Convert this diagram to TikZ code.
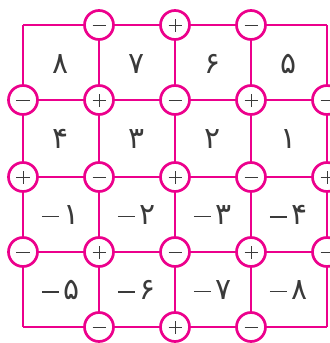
\documentclass[tikz,border=0pt]{standalone}
\usepackage{fontspec}
\newfontfamily\fa[Script=Arabic]{DejaVu Sans}
\definecolor{mag}{HTML}{EC008C}
\definecolor{ink}{HTML}{3A3A3A}
\newcommand{\negsign}{\textcolor{ink}{\rule[7bp]{17bp}{1.5bp}}\hspace{5bp}}
\begin{document}
\begin{tikzpicture}[x=1bp,y=-1bp,
  gridline/.style={draw=mag,line width=2.9bp},
  sgn/.style={circle,draw=mag,line width=2.7bp,fill=white,minimum size=29bp,inner sep=0pt},
  minusn/.style={sgn,path picture={\draw[ink,line width=0.9bp] ([xshift=-6.5bp]path picture bounding box.center) -- ([xshift=6.5bp]path picture bounding box.center);}},
  plusn/.style={sgn,path picture={\draw[ink,line width=0.9bp] ([xshift=-6.5bp]path picture bounding box.center) -- ([xshift=6.5bp]path picture bounding box.center) ([yshift=-6.5bp]path picture bounding box.center) -- ([yshift=6.5bp]path picture bounding box.center);}},
  lbl/.style={text=ink,font=\fa\fontsize{30}{30}\selectfont,inner sep=0pt}]
\useasboundingbox (0,0) rectangle (330,343);
\foreach \i/\x in {0/23,1/99,2/175,3/251,4/327}{
  \foreach \j/\y in {0/25,1/100,2/177,3/252,4/327}{
    \coordinate (p\i\j) at (\x,\y);
  }
}
% grid lines
\foreach \j in {0,...,4}{ \draw[gridline] (p0\j) -- (p4\j); }
\foreach \i in {0,...,4}{ \draw[gridline] (p\i0) -- (p\i4); }
% sign circles
\node[minusn] (c10) at (p10) {};
\node[plusn]  (c20) at (p20) {};
\node[minusn] (c30) at (p30) {};
\node[minusn] (c01) at (p01) {};
\node[plusn]  (c11) at (p11) {};
\node[minusn] (c21) at (p21) {};
\node[plusn]  (c31) at (p31) {};
\node[minusn] (c41) at (p41) {};
\node[plusn]  (c02) at (p02) {};
\node[minusn] (c12) at (p12) {};
\node[plusn]  (c22) at (p22) {};
\node[minusn] (c32) at (p32) {};
\node[plusn]  (c42) at (p42) {};
\node[minusn] (c03) at (p03) {};
\node[plusn]  (c13) at (p13) {};
\node[minusn] (c23) at (p23) {};
\node[plusn]  (c33) at (p33) {};
\node[minusn] (c43) at (p43) {};
\node[minusn] (c14) at (p14) {};
\node[plusn]  (c24) at (p24) {};
\node[minusn] (c34) at (p34) {};
% cell labels
\node[lbl] (a1) at (61,64) {۸};
\node[lbl] (a2) at (137,64) {۷};
\node[lbl] (a3) at (213,64) {۶};
\node[lbl] (a4) at (289,64) {۵};
\node[lbl] (b1) at (61,139) {۴};
\node[lbl] (b2) at (137,139) {۳};
\node[lbl] (b3) at (213,139) {۲};
\node[lbl] (b4) at (289,139) {۱};
\node[lbl] (d1) at (61,215) {\negsign۱};
\node[lbl] (d2) at (137,215) {\negsign۲};
\node[lbl] (d3) at (213,215) {\negsign۳};
\node[lbl] (d4) at (289,215) {\negsign۴};
\node[lbl] (e1) at (61,290) {\negsign۵};
\node[lbl] (e2) at (137,290) {\negsign۶};
\node[lbl] (e3) at (213,290) {\negsign۷};
\node[lbl] (e4) at (289,290) {\negsign۸};
\end{tikzpicture}
\end{document}
